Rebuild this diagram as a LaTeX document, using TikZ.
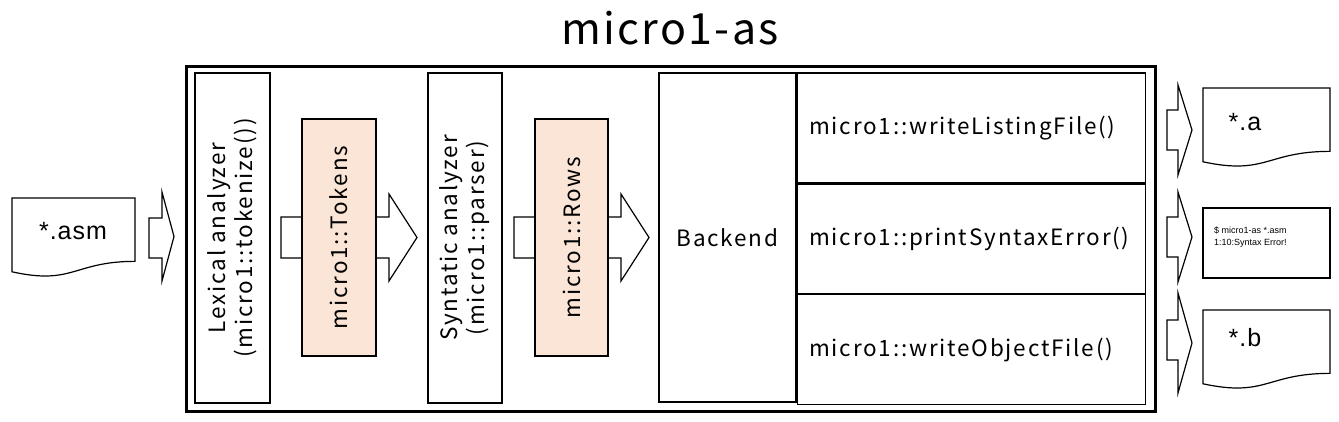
\documentclass[tikz,border=0pt]{standalone}
\usepackage{fontspec}
\setmainfont{Noto Sans CJK JP}
\newfontfamily\lblfont[LetterSpace=8]{Noto Sans CJK JP}
\newfontfamily\titlefont[LetterSpace=5.5]{Noto Sans CJK JP}
\newfontfamily\arialf{Liberation Sans}
\newfontfamily\arialsp[LetterSpace=4]{Liberation Sans}
\definecolor{peach}{HTML}{FBE5D6}
\newcommand\blockarrow[8]{% name, x0, xbase, xtip, yheadtop, yshafttop, yshaftbot, yheadbot
  \draw[blk] (#2,#6) -- (#3,#6) -- (#3,#5) -- (#4,{(#5+#8)/2}) coordinate (#1) -- (#3,#8) -- (#3,#7) -- (#2,#7) -- cycle;}
\newcommand\docshape[5]{% name, x, y, w, h
  \draw[blk] (#2,#3) coordinate (#1) -- ({#2+#4},#3) -- ({#2+#4},{#3+0.802*#5})
    .. controls ({#2+0.5*#4},{#3+0.802*#5}) and ({#2+0.5*#4},{#3+1.1075*#5}) .. (#2,{#3+0.934*#5}) -- cycle;}
\begin{document}
\begin{tikzpicture}[x=1pt,y=-1pt,
  box/.style={draw,line width=1.3pt,inner sep=0pt},
  blk/.style={draw,line width=1.2pt,fill=white,line join=miter},
  data/.style={box,fill=peach},
  lbl/.style={font=\lblfont\fontsize{22.5}{27}\selectfont,align=center},
  doctxt/.style={font=\arialsp\fontsize{25}{30}\selectfont}]
\useasboundingbox (0,0) rectangle (1339,421);
\node (title) at (670,28) {\titlefont\fontsize{43}{50}\selectfont micro1-as};
\node[draw,line width=3pt,minimum width=969,minimum height=345,inner sep=0pt] (outer) at (670.5,238.5) {};
% input
\docshape{asm}{12}{198}{123}{79}
\node[doctxt] (asmt) at (73,231) {*.asm};
\blockarrow{inarr}{149}{162}{174}{192}{218}{258}{281}
% lexical
\node[box,minimum width=75,minimum height=330] (lex) at (232.5,238) {};
\node[lbl,rotate=90] (lext) at (lex.center) {Lexical analyzer\\(micro1::tokenize())};
\blockarrow{a1}{281}{389}{417}{194}{217}{258}{281}
\node[data,minimum width=74,minimum height=237] (tok) at (339,237.5) {};
\node[lbl,rotate=90] at (tok.center) {micro1::Tokens};
% syntactic
\node[box,minimum width=74,minimum height=330] (syn) at (465,238) {};
\node[lbl,rotate=90] (synt) at (syn.center) {Syntatic analyzer\\(micro1::parser)};
\blockarrow{a2}{514}{621}{649}{194}{217}{258}{281}
\node[data,minimum width=73,minimum height=237] (rows) at (571.5,237.5) {};
\node[lbl,rotate=90] at (rows.center) {micro1::Rows};
% backend
\node[box,minimum width=137,minimum height=329] (be) at (727.5,237.5) {};
\node[lbl] at (be.center) {Backend};
\node[box,minimum width=348,minimum height=110,anchor=north west] (f1) at (be.north east) {};
\node[box,minimum width=348,minimum height=109,anchor=north west] (f2) at (f1.south west) {};
\node[box,minimum width=348,minimum height=110,anchor=north west] (f3) at (f2.south west) {};
\node[lbl,anchor=west] at ([xshift=9pt]f1.west) {micro1::writeListingFile()};
\node[lbl,anchor=west] at ([xshift=9pt]f2.west) {micro1::printSyntaxError()};
\node[lbl,anchor=west] at ([xshift=9pt]f3.west) {micro1::writeObjectFile()};
% outputs
\blockarrow{o1}{1167}{1178}{1192}{85}{110}{150}{175}
\blockarrow{o2}{1167}{1178}{1192}{192}{217}{257}{282}
\blockarrow{o3}{1167}{1178}{1192}{293}{320}{360}{393}
\docshape{da}{1203}{88}{127}{79}
\node[doctxt] at (1245,122) {*.a};
\node[blk,minimum width=127,minimum height=70,inner sep=0pt] (derr) at (1266.5,243) {};
\node[anchor=west,align=left,font=\arialf\fontsize{9}{12.5}\selectfont,inner sep=0pt] at (1214,237) {\$ micro1-as *.asm\\1:10:Syntax Error!};
\docshape{db}{1203}{310}{127}{79}
\node[doctxt] at (1245,338) {*.b};
\end{tikzpicture}
\end{document}
